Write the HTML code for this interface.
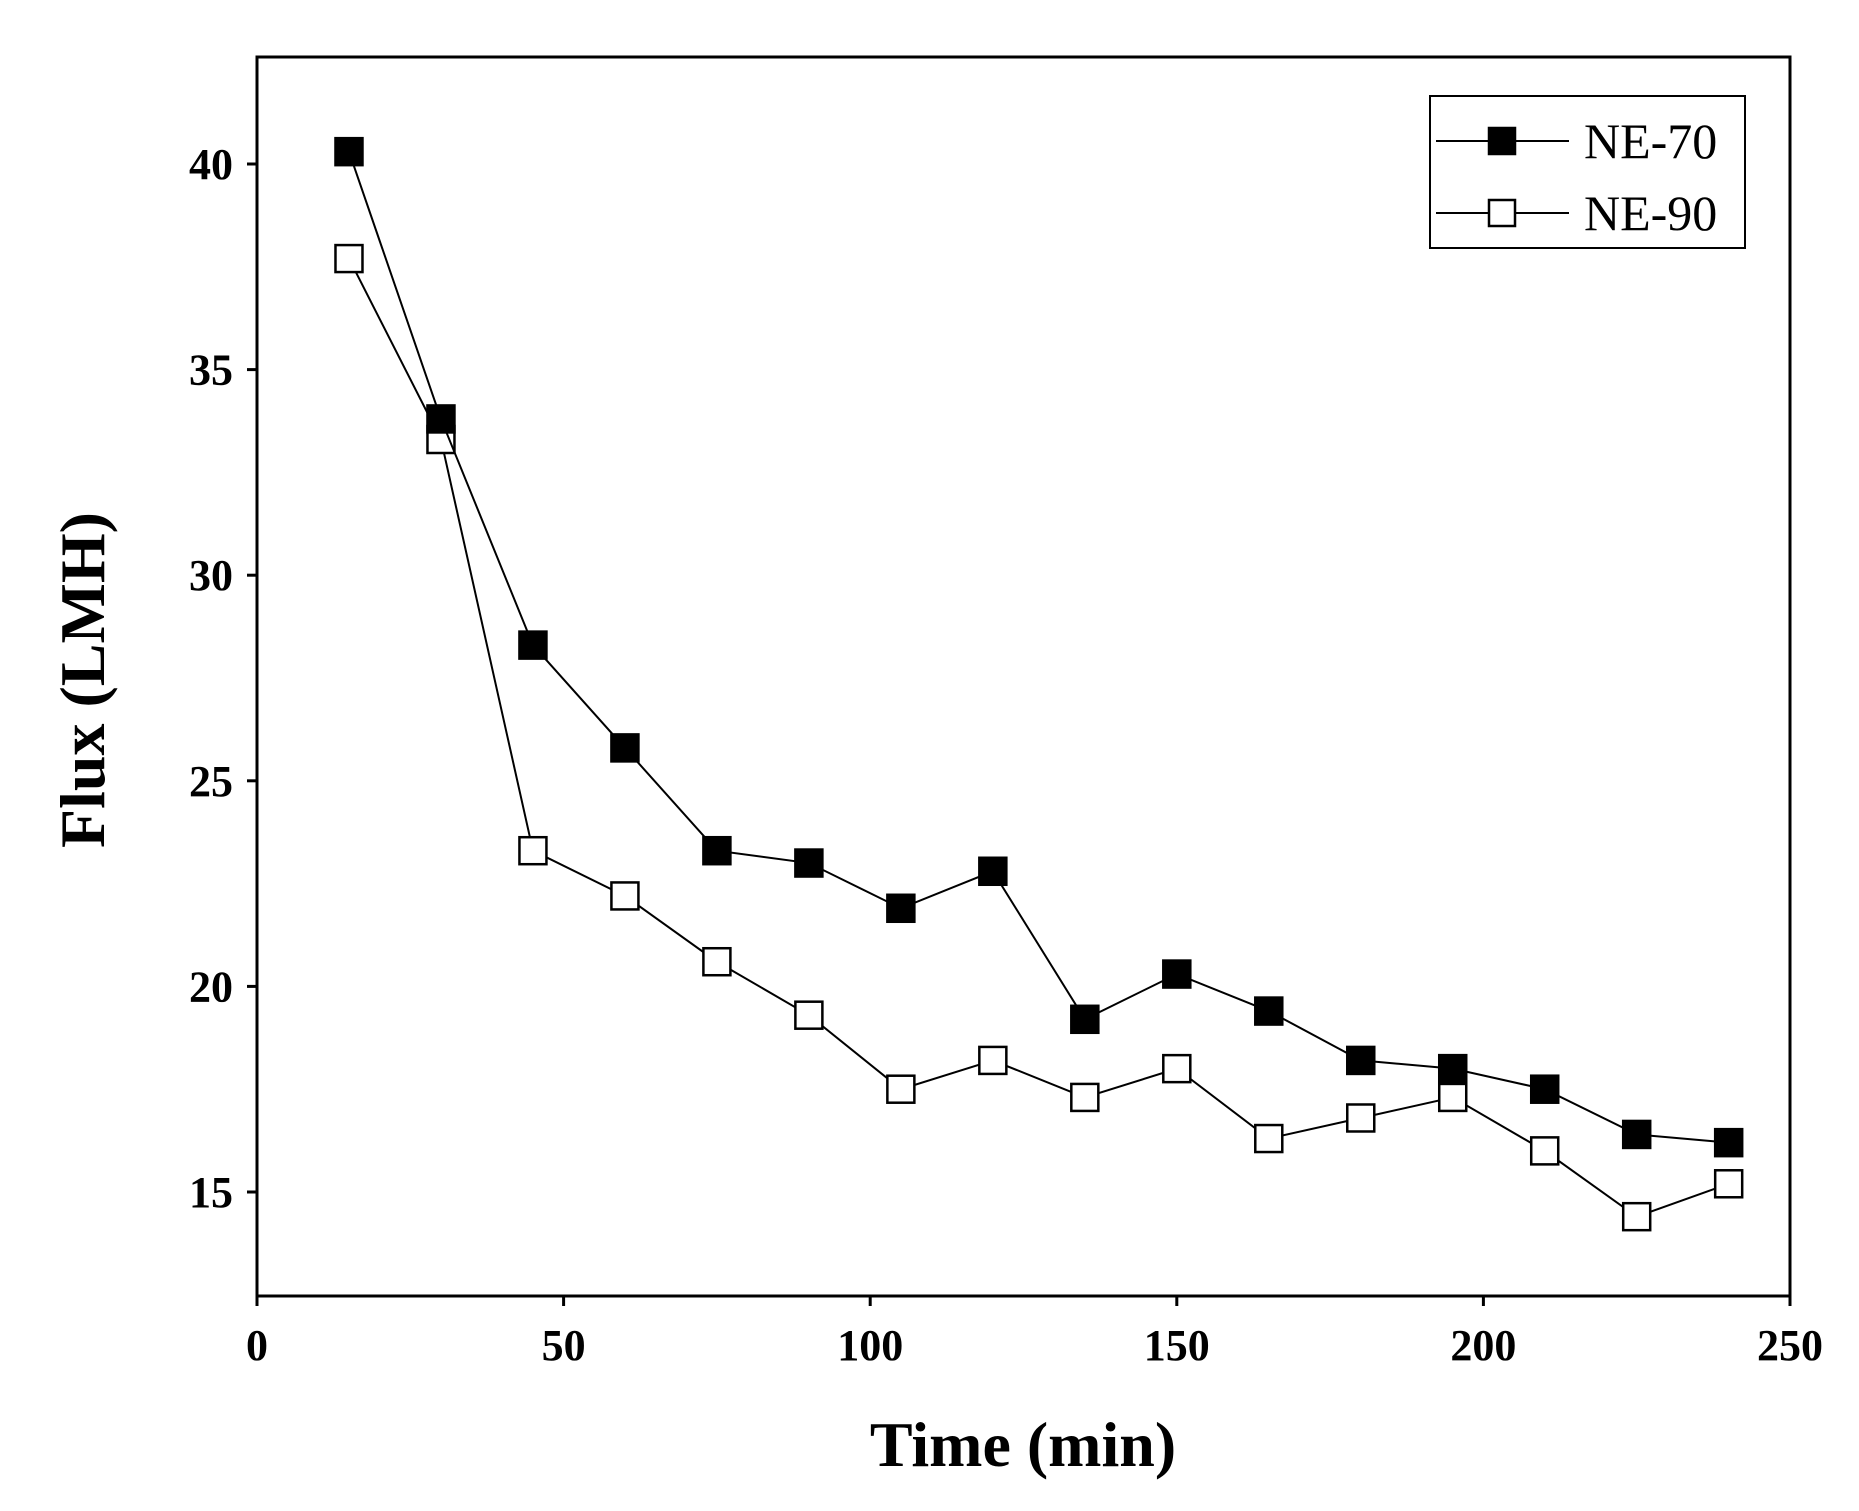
<!DOCTYPE html>
<html><head><meta charset="utf-8"><style>
html,body{margin:0;padding:0;background:#fff;}
svg text{font-family:"Liberation Serif",serif;font-weight:bold;fill:#000;}
</style></head><body>
<svg id="chart" width="1859" height="1506" xmlns="http://www.w3.org/2000/svg">
<g id="axes"></g>
<g id="series"></g>
<g id="legend"></g>
</svg>
<script>
const times = [15,30,45,60,75,90,105,120,135,150,165,180,195,210,225,240];
const ne70 = [40.3,33.8,28.3,25.8,23.3,23.0,21.9,22.8,19.2,20.3,19.4,18.2,18.0,17.5,16.4,16.2];
const ne90 = [37.7,33.3,23.3,22.2,20.6,19.3,17.5,18.2,17.3,18.0,16.3,16.8,17.3,16.0,14.4,15.2];
const xTicks = [0,50,100,150,200,250];
const yTicks = [15,20,25,30,35,40];
const seriesNames = ["NE-70","NE-90"];

const NS="http://www.w3.org/2000/svg";
const L=257,R=1790,T=57,B=1296;
function xs(v){return L+(v-0)/(250-0)*(R-L);}
function ys(v){return 164+(40-v)*(1192-164)/25;}
function mk(tag,attrs,parent){const e=document.createElementNS(NS,tag);for(const k in attrs)e.setAttribute(k,attrs[k]);parent.appendChild(e);return e;}
const axes=document.getElementById('axes'),ser=document.getElementById('series'),leg=document.getElementById('legend');

let box=mk('rect',{x:L,y:T,width:R-L,height:B-T,fill:'none',stroke:'#000','stroke-width':3},axes);


xTicks.forEach(v=>{
  let t=mk('line',{x1:xs(v),x2:xs(v),y1:B,y2:B+10,stroke:'#000','stroke-width':3},axes);
  
  
  let l=mk('text',{x:xs(v),y:B+64,'text-anchor':'middle','font-size':44},axes);
  l.textContent=v;
  
  
});
yTicks.forEach(v=>{
  let t=mk('line',{x1:L-10,x2:L,y1:ys(v),y2:ys(v),stroke:'#000','stroke-width':3},axes);
  
  
  let l=mk('text',{x:233,y:ys(v)+15,'text-anchor':'end','font-size':44},axes);
  l.textContent=v;
  
  
});
let xt=mk('text',{x:1023,y:1466,'text-anchor':'middle','font-size':64},axes);
xt.textContent='Time (min)';


let yt=mk('text',{x:0,y:0,'text-anchor':'middle','font-size':64,transform:'translate(104,680) rotate(-90)'},axes);
yt.textContent='Flux (LMH)';



function drawSeries(vals,filled,name){
  const g=mk('g',{},ser);
  
  
  const pts=vals.map((v,i)=>xs(times[i])+','+ys(v)).join(' ');
  const pl=mk('polyline',{points:pts,fill:'none',stroke:'#000','stroke-width':2},g);
  
  
  vals.forEach((v,i)=>{
    const s=27;
    const r=mk('rect',{x:xs(times[i])-s/2,y:ys(v)-s/2,width:s,height:s,fill:filled?'#000':'#fff',stroke:'#000','stroke-width':2.5},g);
    
    
  });
}
drawSeries(ne90,false,'ne-90');
drawSeries(ne70,true,'ne-70');

let lb=mk('rect',{x:1430,y:96,width:315,height:152,fill:'#fff',stroke:'#000','stroke-width':2},leg);


seriesNames.forEach((n,i)=>{
  const y=141+i*72;
  const ln=mk('line',{x1:1436,x2:1569,y1:y,y2:y,stroke:'#000','stroke-width':2},leg);
  
  
  const r=mk('rect',{x:1502-13,y:y-13,width:26,height:26,fill:i==0?'#000':'#fff',stroke:'#000','stroke-width':2.5},leg);
  
  
  const t=mk('text',{x:1584,y:y+17,'font-size':50},leg);
  t.style.fontWeight='normal';
  t.textContent=n;
  
  
});
</script>
</body></html>
